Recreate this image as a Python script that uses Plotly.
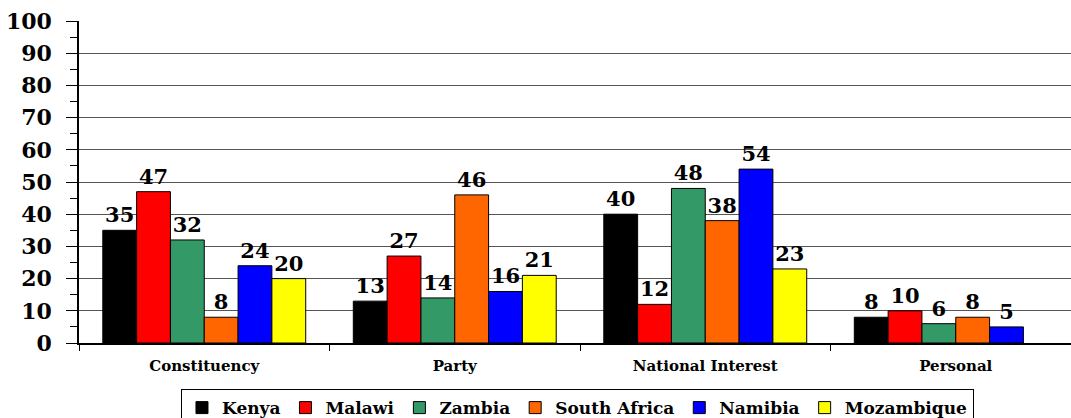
import plotly.graph_objects as go

categories = ["Constituency", "Party", "National Interest", "Personal"]
kenya = [35, 13, 40, 8]
malawi = [47, 27, 12, 10]
zambia = [32, 14, 48, 6]
south_africa = [8, 46, 38, 8]
namibia = [24, 16, 54, 5]
mozambique = [20, 21, 23, None]

series = [
    ("Kenya", kenya, "#000000"),
    ("Malawi", malawi, "#FF0000"),
    ("Zambia", zambia, "#339966"),
    ("South Africa", south_africa, "#FF6600"),
    ("Namibia", namibia, "#0000FF"),
    ("Mozambique", mozambique, "#FFFF00"),
]

FONT = "DejaVu Serif"

fig = go.Figure()
for name, vals, color in series:
    fig.add_trace(go.Bar(
        name=name, x=categories, y=vals,
        marker=dict(color=color, line=dict(color="black", width=1)),
        text=[("" if v is None else str(v)) for v in vals],
        textposition="outside",
        constraintext="none",
        cliponaxis=False,
        textfont=dict(family=FONT, size=21, color="black", weight="bold"),
    ))

fig.update_layout(
    width=1071, height=418,
    margin=dict(l=79, r=0, t=21, b=75, autoexpand=False),
    paper_bgcolor="white", plot_bgcolor="white",
    barmode="group", bargap=0.19, bargroupgap=0,
    showlegend=True,
    legend=dict(
        orientation="h", x=0.5025, xanchor="center", y=-0.143, yanchor="top",
        bordercolor="black", borderwidth=1, bgcolor="white",
        font=dict(family=FONT, size=17, color="black", weight="bold"),
        itemwidth=30, tracegroupgap=0,
    ),
    xaxis=dict(
        type="category", range=[-0.5, 3.46], automargin=False,
        showline=True, linecolor="black", linewidth=1.5,
        tickson="boundaries", ticks="outside", ticklen=6, tickcolor="black",
        showgrid=False, ticklabelstandoff=8,
        tickfont=dict(family=FONT, size=15, color="black", weight="bold"),
    ),
    yaxis=dict(
        range=[0, 100], dtick=10, automargin=False,
        showline=True, linecolor="black", linewidth=1.5,
        ticks="outside", ticklen=11, tickcolor="black",
        showgrid=True, gridcolor="#555555", gridwidth=1,
        zeroline=False, ticklabelstandoff=10,
        tickfont=dict(family=FONT, size=22, color="black", weight="bold"),
        minor=dict(dtick=5, ticks="outside", ticklen=7, tickcolor="black", showgrid=False),
    ),
)

fig.write_html(
    "out.html",
    config={"displayModeBar": False},
    post_script="document.body.style.margin='0';document.body.style.overflow='hidden';",
)
